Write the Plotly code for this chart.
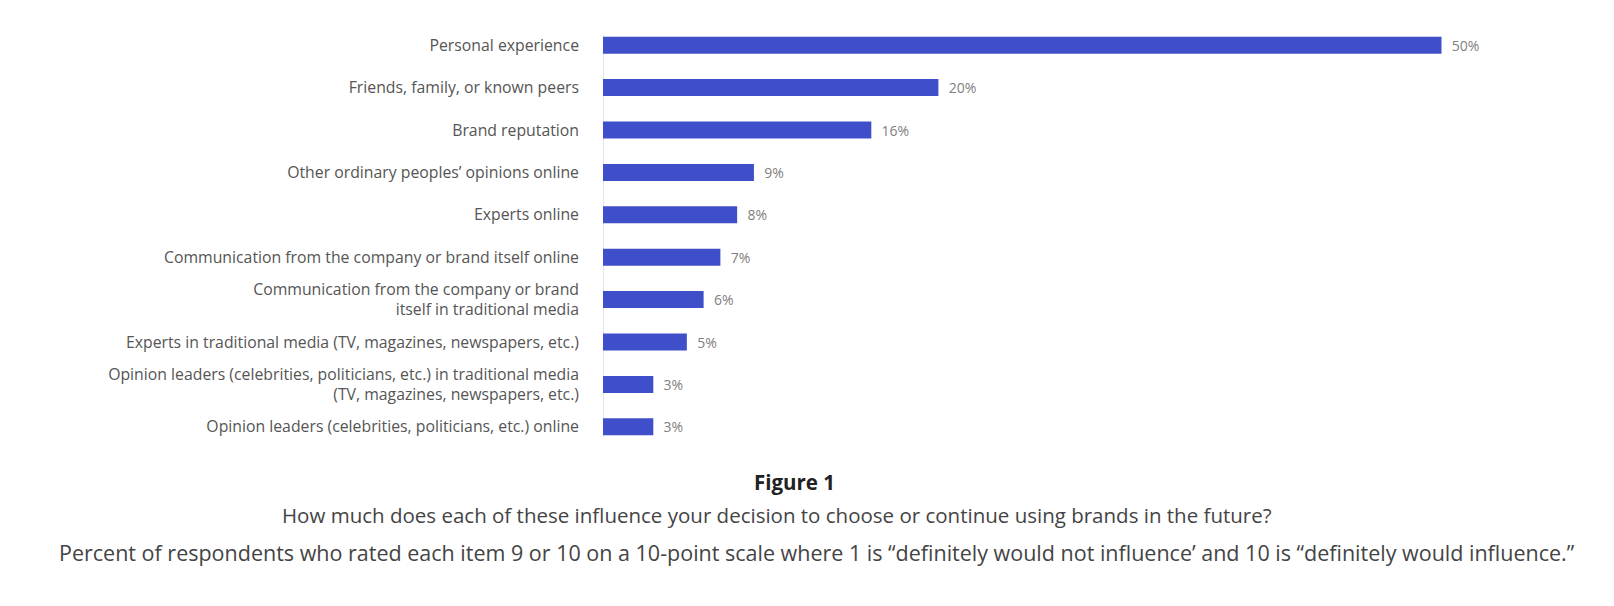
import plotly.graph_objects as go

categories = [
    "Personal experience",
    "Friends, family, or known peers",
    "Brand reputation",
    "Other ordinary peoples\u2019 opinions online",
    "Experts online",
    "Communication from the company or brand itself online",
    "Communication from the company or brand<br>itself in traditional media",
    "Experts in traditional media (TV, magazines, newspapers, etc.)",
    "Opinion leaders (celebrities, politicians, etc.) in traditional media<br>(TV, magazines, newspapers, etc.)",
    "Opinion leaders (celebrities, politicians, etc.) online",
]
values = [50, 20, 16, 9, 8, 7, 6, 5, 3, 3]

caption_title = "Figure 1"
caption_line1 = "How much does each of these influence your decision to choose or continue using brands in the future?"
caption_line2 = ("Percent of respondents who rated each item 9 or 10 on a 10-point scale where 1 is "
                 "\u201cdefinitely would not influence\u2019 and 10 is \u201cdefinitely would influence.\u201d")

# page has an 8px body margin; figure coords = page coords - 8
OFF = 8
W, H = 1614 - 2 * OFF, 606 - 2 * OFF
L = 603 - OFF
T = 24 - OFF
B = H - (447.7 - OFF)
R = 100
pw = W - L - R
ph = H - T - B


def px(x):
    return (x - OFF - L) / pw


def py(y):
    return (H - B - (y - OFF)) / ph


FONT = "'Open Sans', sans-serif"

fig = go.Figure(
    go.Bar(
        x=values,
        y=categories,
        orientation="h",
        width=0.4,
        marker=dict(color="#3F4FC9", line=dict(width=0)),
        text=[f"{v}%" for v in values],
        texttemplate="  %{text}",
        textposition="outside",
        constraintext="none",
        cliponaxis=False,
        textfont=dict(family=FONT, size=14, color="#808080"),
        hoverinfo="skip",
    )
)

fig.update_layout(
    width=W,
    height=H,
    margin=dict(l=L, r=R, t=T, b=B),
    paper_bgcolor="white",
    plot_bgcolor="white",
    showlegend=False,
    font=dict(family=FONT),
    xaxis=dict(
        range=[0, pw / 16.77],
        showgrid=False,
        zeroline=False,
        showline=False,
        showticklabels=False,
        ticks="",
    ),
    yaxis=dict(
        categoryorder="array",
        categoryarray=categories,
        range=[9.5, -0.5],
        showgrid=False,
        zeroline=False,
        showline=False,
        ticks="",
        ticklabelstandoff=23,
        tickfont=dict(family=FONT, size=15.8, color="#555555"),
    ),
    shapes=[
        dict(
            type="line", xref="x", yref="y", x0=0, x1=0, y0=-0.25, y1=9.25,
            line=dict(color="#d8dbef", width=1.5), layer="below",
        )
    ],
    annotations=[
        dict(text="<b>" + caption_title + "</b>", x=px(794), y=py(482), xref="paper", yref="paper",
             xanchor="center", yanchor="middle", showarrow=False,
             font=dict(family=FONT, size=20.5, color="#222222")),
        dict(text=caption_line1, x=px(777), y=py(515), xref="paper", yref="paper",
             xanchor="center", yanchor="middle", showarrow=False,
             font=dict(family=FONT, size=20.5, color="#444444")),
        dict(text=caption_line2, x=px(817), y=py(552), xref="paper", yref="paper",
             xanchor="center", yanchor="middle", showarrow=False,
             font=dict(family=FONT, size=21.5, color="#444444")),
    ],
)

fig.write_html("out.html")
